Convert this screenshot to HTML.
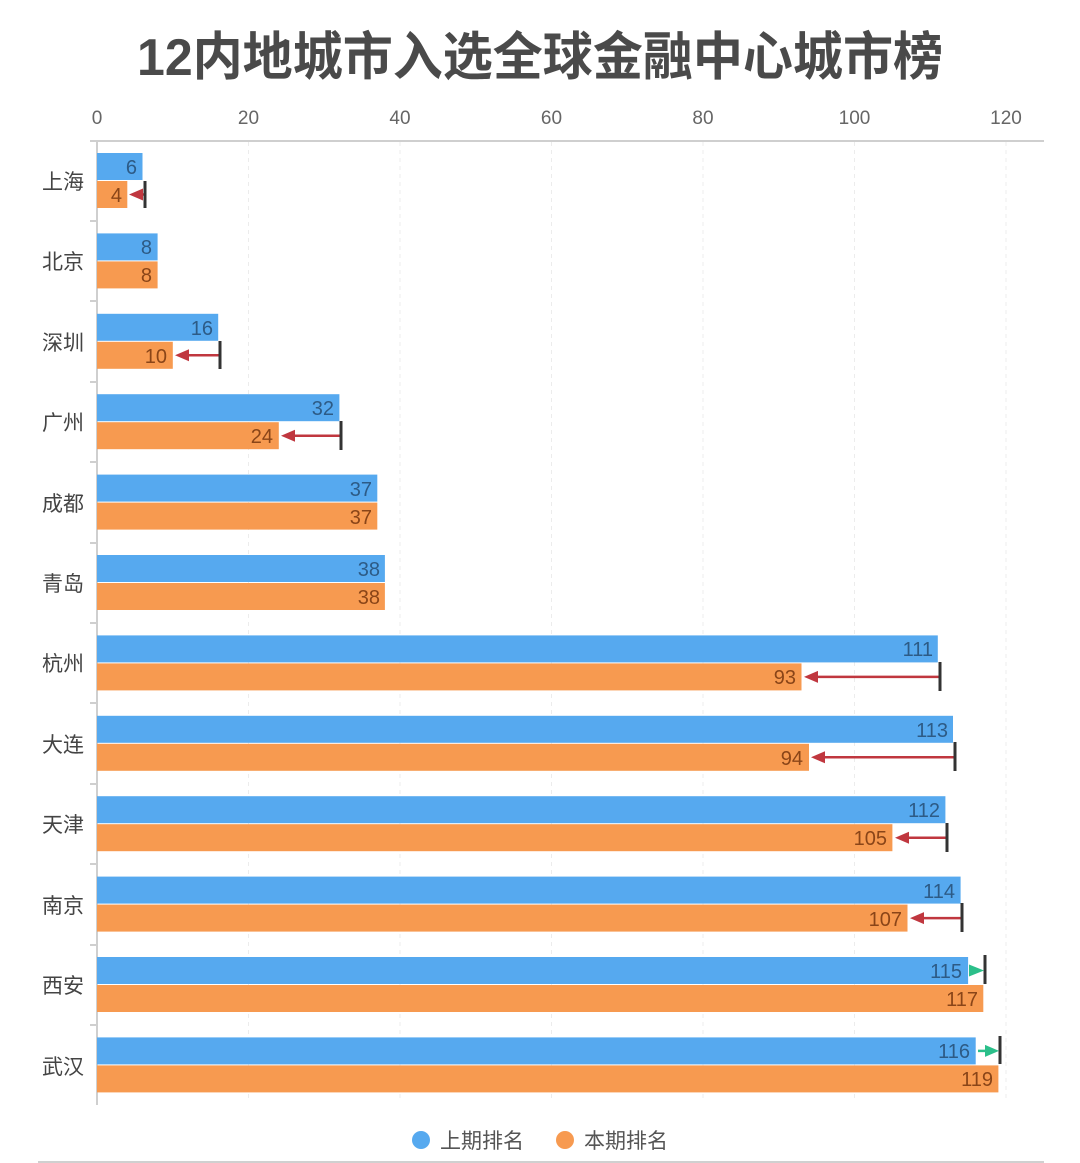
<!DOCTYPE html>
<html><head><meta charset="utf-8"><style>
html,body{margin:0;padding:0;background:#fff;}
svg{display:block;font-family:"Liberation Sans","Noto Sans CJK SC",sans-serif;}
</style></head><body>
<svg width="1080" height="1163" viewBox="0 0 1080 1163" xmlns="http://www.w3.org/2000/svg">
<text x="540" y="75" text-anchor="middle" font-size="52" font-weight="bold" fill="#4a4a4a" textLength="806" lengthAdjust="spacingAndGlyphs">12内地城市入选全球金融中心城市榜</text>
<g font-size="19" fill="#666" text-anchor="middle">
<text x="97" y="124">0</text><text x="248.5" y="124">20</text><text x="400" y="124">40</text><text x="551.5" y="124">60</text><text x="703" y="124">80</text><text x="854.5" y="124">100</text><text x="1006" y="124">120</text>
</g>
<g stroke="#ececec" stroke-width="1" stroke-dasharray="4,4">
<line x1="248.5" y1="142" x2="248.5" y2="1100"/><line x1="400" y1="142" x2="400" y2="1100"/><line x1="551.5" y1="142" x2="551.5" y2="1100"/><line x1="703" y1="142" x2="703" y2="1100"/><line x1="854.5" y1="142" x2="854.5" y2="1100"/><line x1="1006" y1="142" x2="1006" y2="1100"/>
</g>
<line x1="90" y1="141" x2="1044" y2="141" stroke="#cfcfcf" stroke-width="2"/>
<line x1="97" y1="141" x2="97" y2="1105" stroke="#cfcfcf" stroke-width="2"/>
<g stroke="#cfcfcf" stroke-width="2">
<line x1="90" y1="221" x2="97" y2="221"/><line x1="90" y1="301" x2="97" y2="301"/><line x1="90" y1="382" x2="97" y2="382"/><line x1="90" y1="462" x2="97" y2="462"/><line x1="90" y1="543" x2="97" y2="543"/><line x1="90" y1="623" x2="97" y2="623"/><line x1="90" y1="703" x2="97" y2="703"/><line x1="90" y1="784" x2="97" y2="784"/><line x1="90" y1="864" x2="97" y2="864"/><line x1="90" y1="945" x2="97" y2="945"/><line x1="90" y1="1025" x2="97" y2="1025"/>
</g>
<g font-size="21" fill="#444" text-anchor="end">
<text x="84" y="189">上海</text><text x="84" y="269">北京</text><text x="84" y="350">深圳</text><text x="84" y="430">广州</text><text x="84" y="511">成都</text><text x="84" y="591">青岛</text><text x="84" y="671">杭州</text><text x="84" y="752">大连</text><text x="84" y="832">天津</text><text x="84" y="913">南京</text><text x="84" y="993">西安</text><text x="84" y="1074">武汉</text>
</g>
<g fill="#56a9ef">
<rect x="97" y="153" width="45.5" height="27"/>
<rect x="97" y="233.4" width="60.6" height="27"/>
<rect x="97" y="313.8" width="121.2" height="27"/>
<rect x="97" y="394.2" width="242.4" height="27"/>
<rect x="97" y="474.6" width="280.3" height="27"/>
<rect x="97" y="555" width="287.9" height="27"/>
<rect x="97" y="635.4" width="840.8" height="27"/>
<rect x="97" y="715.8" width="856" height="27"/>
<rect x="97" y="796.2" width="848.4" height="27"/>
<rect x="97" y="876.6" width="863.6" height="27"/>
<rect x="97" y="957" width="871.1" height="27"/>
<rect x="97" y="1037.4" width="878.7" height="27"/>
</g>
<g fill="#f79a50">
<rect x="97" y="181" width="30.3" height="27"/>
<rect x="97" y="261.4" width="60.6" height="27"/>
<rect x="97" y="341.8" width="75.8" height="27"/>
<rect x="97" y="422.2" width="181.8" height="27"/>
<rect x="97" y="502.6" width="280.3" height="27"/>
<rect x="97" y="583" width="287.9" height="27"/>
<rect x="97" y="663.4" width="704.5" height="27"/>
<rect x="97" y="743.8" width="712" height="27"/>
<rect x="97" y="824.2" width="795.4" height="27"/>
<rect x="97" y="904.6" width="810.5" height="27"/>
<rect x="97" y="985" width="886.3" height="27"/>
<rect x="97" y="1065.4" width="901.4" height="27"/>
</g>
<g font-size="20" fill="#2d5b86" text-anchor="end">
<text x="137" y="174">6</text><text x="152" y="254">8</text><text x="213" y="335">16</text><text x="334" y="415">32</text><text x="372" y="496">37</text><text x="380" y="576">38</text><text x="933" y="656">111</text><text x="948" y="737">113</text><text x="940" y="817">112</text><text x="955" y="898">114</text><text x="962" y="978">115</text><text x="970" y="1058">116</text>
</g>
<g font-size="20" fill="#8a4518" text-anchor="end">
<text x="122" y="202">4</text><text x="152" y="282">8</text><text x="167" y="363">10</text><text x="273" y="443">24</text><text x="372" y="524">37</text><text x="380" y="604">38</text><text x="796" y="684">93</text><text x="803" y="765">94</text><text x="887" y="845">105</text><text x="902" y="926">107</text><text x="978" y="1006">117</text><text x="993" y="1086">119</text>
</g>
<!-- decreases -->
<g stroke="#c0373f" stroke-width="2.5">
<line x1="140" y1="194.5" x2="145" y2="194.5"/>
<line x1="186" y1="355.3" x2="220" y2="355.3"/>
<line x1="292" y1="435.7" x2="341" y2="435.7"/>
<line x1="815" y1="676.9" x2="940" y2="676.9"/>
<line x1="822" y1="757.3" x2="955" y2="757.3"/>
<line x1="906" y1="837.7" x2="947" y2="837.7"/>
<line x1="921" y1="918.1" x2="962" y2="918.1"/>
</g>
<g fill="#c0373f">
<polygon points="129,194.5 143,188.5 143,200.5"/>
<polygon points="175,355.3 189,349.3 189,361.3"/>
<polygon points="281,435.7 295,429.7 295,441.7"/>
<polygon points="804,676.9 818,670.9 818,682.9"/>
<polygon points="811,757.3 825,751.3 825,763.3"/>
<polygon points="895,837.7 909,831.7 909,843.7"/>
<polygon points="910,918.1 924,912.1 924,924.1"/>
</g>
<g stroke="#333" stroke-width="3">
<line x1="145" y1="181" x2="145" y2="208"/>
<line x1="220" y1="341" x2="220" y2="369"/>
<line x1="341" y1="421" x2="341" y2="450"/>
<line x1="940" y1="662" x2="940" y2="691"/>
<line x1="955" y1="742" x2="955" y2="771"/>
<line x1="947" y1="823" x2="947" y2="852"/>
<line x1="962" y1="903" x2="962" y2="932"/>
<line x1="985" y1="955" x2="985" y2="984"/>
<line x1="1000" y1="1036" x2="1000" y2="1064"/>
</g>
<!-- increases -->
<g stroke="#2bbf8a" stroke-width="2.5">
<line x1="970" y1="970.5" x2="975" y2="970.5"/>
<line x1="978" y1="1050.9" x2="988" y2="1050.9"/>
</g>
<g fill="#2bbf8a">
<polygon points="984,970.5 969,964.5 969,976.5"/>
<polygon points="999,1050.9 985,1044.9 985,1056.9"/>
</g>
<circle cx="421" cy="1140" r="9" fill="#56a9ef"/>
<text x="440" y="1148" font-size="21" fill="#555">上期排名</text>
<circle cx="565" cy="1140" r="9" fill="#f79a50"/>
<text x="584" y="1148" font-size="21" fill="#555">本期排名</text>
<line x1="38" y1="1162" x2="1044" y2="1162" stroke="#d0d0d0" stroke-width="2"/>
</svg>
</body></html>
